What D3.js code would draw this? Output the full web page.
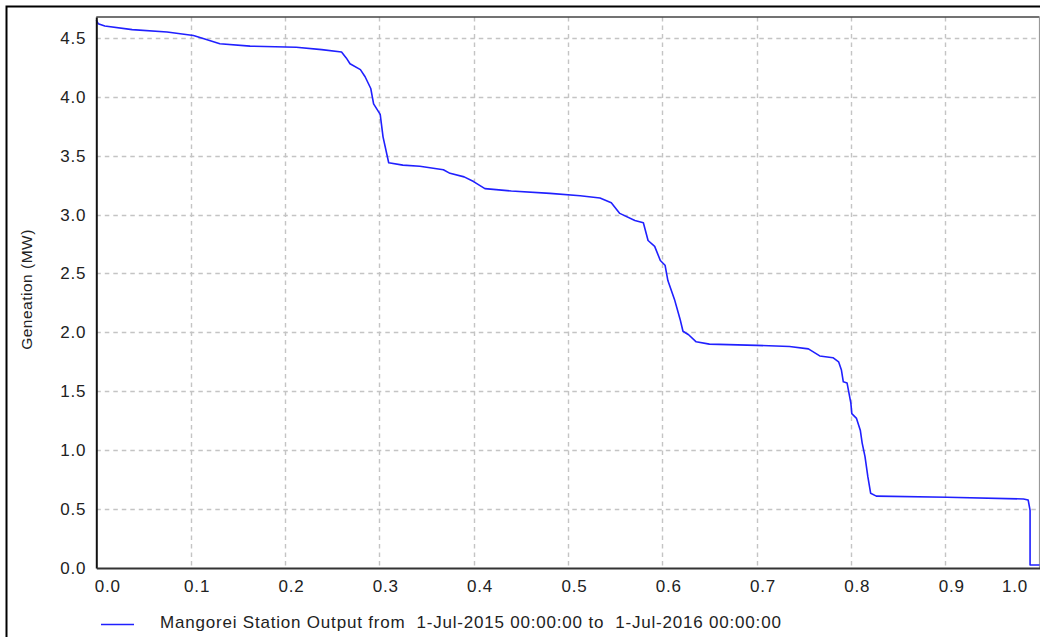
<!DOCTYPE html>
<html>
<head>
<meta charset="utf-8">
<script src="https://cdn.jsdelivr.net/npm/d3@7"></script>
<style>
  html, body { margin: 0; padding: 0; background: #fff; }
  svg { display: block; font-family: "Liberation Sans", Arial, sans-serif; }
</style>
</head>
<body>
<div id="chart"></div>
<script>
// Courbe de durée : fraction du temps (x) vs production (MW)
const duration = [
  0.000, 0.002, 0.009, 0.038, 0.075, 0.103, 0.115, 0.131, 0.163, 0.212,
  0.239, 0.260, 0.265, 0.269, 0.280, 0.285, 0.291, 0.294, 0.301, 0.304,
  0.310, 0.325, 0.343, 0.368, 0.375, 0.390, 0.400, 0.412, 0.440, 0.481,
  0.513, 0.534, 0.546, 0.555, 0.571, 0.580, 0.585, 0.592, 0.598, 0.603,
  0.606, 0.613, 0.619, 0.622, 0.628, 0.636, 0.650, 0.700, 0.735, 0.755,
  0.767, 0.781, 0.787, 0.790, 0.792, 0.796, 0.800, 0.801, 0.806, 0.810,
  0.812, 0.815, 0.818, 0.821, 0.827, 0.902, 0.983, 0.988, 0.990, 0.990,
  1.000,
]
const generation = [
  4.65, 4.62, 4.60, 4.57, 4.55, 4.52, 4.49, 4.45, 4.43, 4.42,
  4.40, 4.38, 4.33, 4.28, 4.23, 4.17, 4.07, 3.94, 3.85, 3.66,
  3.44, 3.42, 3.41, 3.38, 3.35, 3.32, 3.28, 3.22, 3.20, 3.18,
  3.16, 3.14, 3.10, 3.01, 2.95, 2.93, 2.78, 2.73, 2.61, 2.57,
  2.44, 2.28, 2.11, 2.01, 1.98, 1.92, 1.90, 1.89, 1.88, 1.86,
  1.80, 1.785, 1.75, 1.68, 1.58, 1.57, 1.40, 1.31, 1.27, 1.17,
  1.06, 0.945, 0.775, 0.634, 0.61, 0.60, 0.586, 0.577, 0.49, 0.025,
  0.025,
]
const xTicks = [0, 0.1, 0.2, 0.3, 0.4, 0.5, 0.6, 0.7, 0.8, 0.9, 1.0]
const yTicks = [0, 0.5, 1.0, 1.5, 2.0, 2.5, 3.0, 3.5, 4.0, 4.5]
const yLabel = "Geneation (MW)"
const legendLabel = "Mangorei Station Output from  1-Jul-2015 00:00:00 to  1-Jul-2016 00:00:00"

const W = 1040, H = 637
const plot = { left: 96.3, top: 17, right: 1039.5, bottom: 568 }
const lineColor = "#2020ff"
const gridColor = "#c4c4c4"
const textColor = "#222"
const FONT = 17
const SPACING = 0.8

const x = d3.scaleLinear().domain([0, 1]).range([plot.left, plot.right])
const y = d3.scaleLinear().domain([0, 4.677]).range([plot.bottom, plot.top])

const svg = d3.select("#chart").append("svg")
  .attr("width", W).attr("height", H)
  .attr("viewBox", `0 0 ${W} ${H}`)

// Cadre extérieur (coupé à droite et en bas comme dans l'original)
svg.append("rect")
  .attr("x", 6.5).attr("y", 6.5)
  .attr("width", W + 20).attr("height", H + 20)
  .attr("fill", "none").attr("stroke", "#000").attr("stroke-width", 2)

// Grille pointillée
svg.append("g")
  .selectAll("line.hgrid")
  .data(yTicks.filter((d) => d > 0))
  .join("line")
  .attr("x1", plot.left).attr("x2", plot.right)
  .attr("y1", (d) => Math.round(y(d)) + 0.5).attr("y2", (d) => Math.round(y(d)) + 0.5)
  .attr("stroke", gridColor).attr("stroke-width", 1.4).attr("stroke-dasharray", "4.5,4")

svg.append("g")
  .selectAll("line.vgrid")
  .data(xTicks.filter((d) => d > 0 && d < 1))
  .join("line")
  .attr("x1", (d) => Math.round(x(d)) + 0.5).attr("x2", (d) => Math.round(x(d)) + 0.5)
  .attr("y1", plot.top).attr("y2", plot.bottom)
  .attr("stroke", gridColor).attr("stroke-width", 1.4).attr("stroke-dasharray", "4.5,4")

// Bordures du tracé
svg.append("line")
  .attr("x1", plot.left).attr("x2", plot.right)
  .attr("y1", plot.top).attr("y2", plot.top)
  .attr("stroke", "#444").attr("stroke-width", 1.5)
svg.append("line")
  .attr("x1", plot.right).attr("x2", plot.right)
  .attr("y1", plot.top).attr("y2", plot.bottom)
  .attr("stroke", "#999").attr("stroke-width", 1.2)

// Série
const pts = duration.map((d, i) => [d, generation[i]])
svg.append("path")
  .datum(pts)
  .attr("fill", "none")
  .attr("stroke", lineColor)
  .attr("stroke-width", 1.6)
  .attr("stroke-linejoin", "round")
  .attr("d", d3.line().x((d) => x(d[0])).y((d) => y(d[1])))

// Axes (sans graduations, libellés seuls)
const yAxis = svg.append("g")
  .attr("transform", `translate(${plot.left},0)`)
  .call(d3.axisLeft(y).tickValues(yTicks).tickSize(0).tickPadding(10).tickFormat(d3.format(".1f")))
yAxis.select(".domain").attr("stroke", "#111").attr("stroke-width", 2)
yAxis.selectAll("text")
  .attr("font-size", FONT).attr("fill", textColor).attr("font-family", null)
  .attr("letter-spacing", SPACING)

const xAxis = svg.append("g")
  .attr("transform", `translate(0,${plot.bottom})`)
  .call(d3.axisBottom(x).tickValues(xTicks).tickSize(0).tickPadding(12).tickFormat(d3.format(".1f")))
xAxis.select(".domain").attr("stroke", "#333").attr("stroke-width", 2)
xAxis.selectAll("text")
  .attr("font-size", FONT).attr("fill", textColor).attr("font-family", null)
  .attr("letter-spacing", SPACING)
  .attr("dx", function (d) {
    // décalage à droite, borné aux extrémités du tracé
    const w = this.getComputedTextLength()
    const cx = x(d) + 6
    const lo = plot.left + w / 2 - 2
    const hi = plot.right - w / 2 - 12
    return Math.max(lo, Math.min(hi, cx)) - x(d)
  })

// Titre de l'axe Y
svg.append("text")
  .attr("transform", `translate(28,${(plot.top + plot.bottom) / 2 - 3}) rotate(-90)`)
  .attr("text-anchor", "middle")
  .attr("dominant-baseline", "middle")
  .attr("font-size", 15.5)
  .attr("letter-spacing", 0.5)
  .attr("fill", textColor)
  .text(yLabel)

// Légende
svg.append("line")
  .attr("x1", 101).attr("x2", 134)
  .attr("y1", 624.5).attr("y2", 624.5)
  .attr("stroke", lineColor).attr("stroke-width", 1.6)
svg.append("text")
  .attr("x", 160).attr("y", 624)
  .attr("dominant-baseline", "middle")
  .attr("font-size", FONT)
  .attr("letter-spacing", SPACING)
  .attr("fill", textColor)
  .style("white-space", "pre")
  .attr("xml:space", "preserve")
  .text(legendLabel)
</script>
</body>
</html>
